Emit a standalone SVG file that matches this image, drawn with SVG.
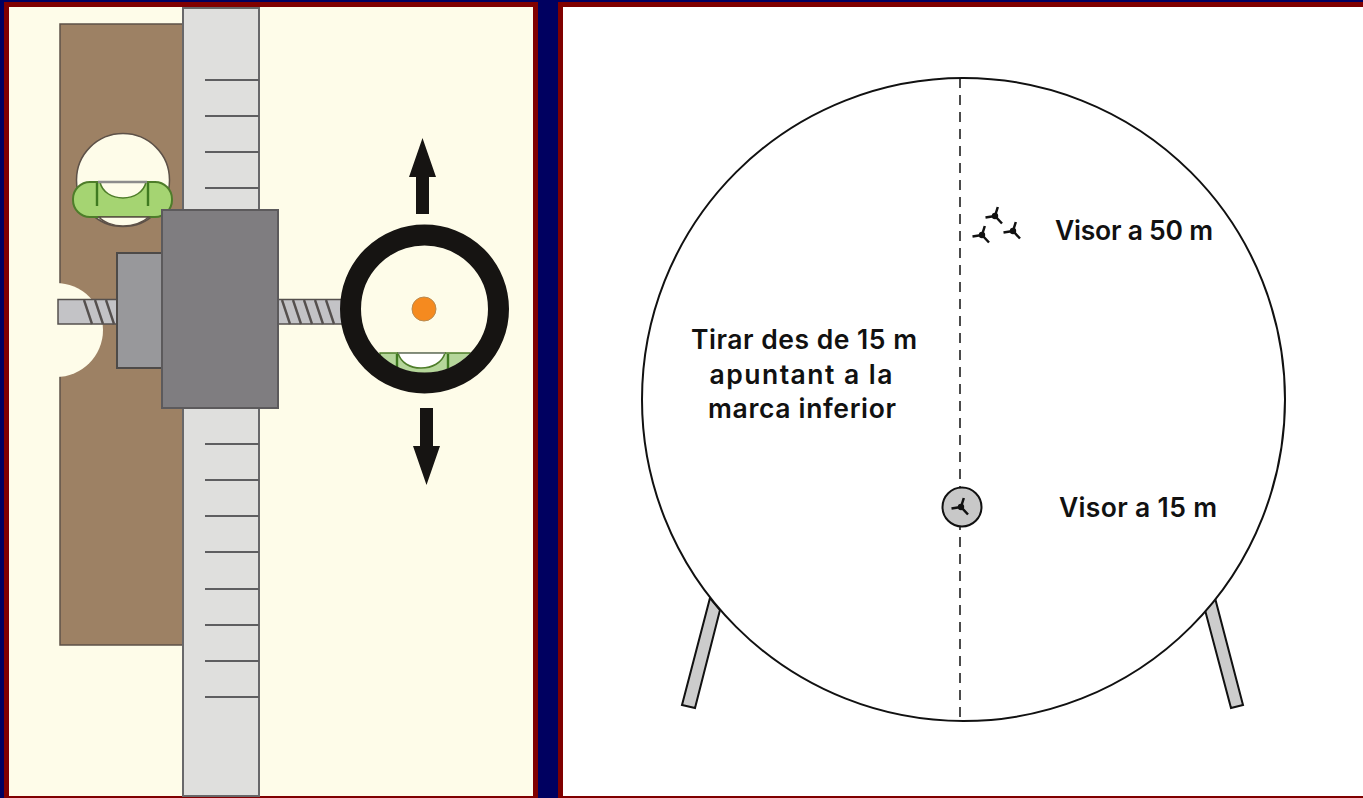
<svg xmlns="http://www.w3.org/2000/svg" width="1363" height="798" viewBox="0 0 1363 798">
<style>
.lbl{font-family:"Inter","Liberation Sans",sans-serif;font-weight:600;font-size:26.500px;fill:#111;text-anchor:middle}
.tick{stroke:#5e5e60;stroke-width:2.2;fill:none}
.edge{stroke:#4d4a48;stroke-width:2}
.thread{stroke:#55504e;stroke-width:2.4;fill:none}
.scr{fill:#c3c3c6;stroke:#55504e;stroke-width:1.5}
.gl{stroke:#3f7a20;stroke-width:2.4;fill:none}
.leg{fill:#cccccc;stroke:#111;stroke-width:2}
</style>
<defs>
<g id="mark"><path d="M0 0L-9.500 1.500M0 0L2.800-9M0 0L7 7.500" stroke="#111" stroke-width="2.500" fill="none"/><circle r="3.200" fill="#111"/></g>
<clipPath id="inner"><circle cx="424" cy="309" r="64"/></clipPath>
</defs>
<rect width="1363" height="798" fill="#000060"/>
<rect x="4" y="2" width="534" height="796" fill="#800000"/>
<rect x="558" y="2" width="805" height="796" fill="#800000"/>
<rect x="9" y="7" width="524" height="789" fill="#fefce9"/>
<rect x="563" y="7" width="800" height="789" fill="#fff"/>

<g id="backplate">
<rect x="60" y="24" width="123" height="621" fill="#9d8164" stroke="#5d5148" stroke-width="1.5"/>
<circle cx="56" cy="330" r="47" fill="#fefce9"/>
<rect x="40" y="24" width="19" height="621" fill="#fefce9"/>
</g>
<g id="ruler">
<rect x="183" y="8" width="76" height="788" fill="#dfdfdd" stroke="#68686a" stroke-width="2"/>
<path class="tick" d="M205 80H259M205 116H259M205 152H259M205 188H259M205 444H259M205 480H259M205 516H259M205 552H259M205 589H259M205 625H259M205 661H259M205 697H259"/>
</g>
<g id="top-level">
<circle cx="123" cy="180" r="46.500" fill="#fefce9" stroke="#5d5148" stroke-width="1.500"/>
<rect x="73" y="182" width="99" height="35" rx="17" fill="#a5d472" stroke="#4e7d2a" stroke-width="2"/>
<path d="M100 182H146C144 192 134 198 123 198C112 198 102 192 100 182Z" fill="#fefce9" stroke="#4e7d2a" stroke-width="1.500"/>
<path d="M98 182H147" stroke="#8c8c8c" stroke-width="2.400"/>
<path class="gl" d="M97 183V206M148 183V206"/>
<path d="M99 217C103 222 113 226 123 226C133 226 143 222 149 217Z" fill="#fefce9" stroke="#5d5148" stroke-width="1.500"/>
</g>
<g id="screw-left">
<rect x="58" y="299.500" width="59" height="24.500" class="scr"/>
<path class="thread" d="M84 300L92 324M95 300L103 324M106 300L114 324"/>
</g>
<g id="screw-right">
<rect x="278" y="299.500" width="66" height="24.500" class="scr"/>
<path class="thread" d="M282 300L290 324M293 300L301 324M304 300L312 324M315 300L323 324M326 300L334 324"/>
</g>
<g id="small-block"><rect x="117" y="253" width="45" height="115" fill="#98989b" class="edge"/></g>
<g id="big-block"><rect x="162" y="210" width="116" height="198" fill="#7f7d80" stroke="#5c5a5c" stroke-width="2"/></g>
<g id="sight">
<circle cx="424" cy="309" r="64" fill="#fefce9"/>
<g clip-path="url(#inner)">
<rect x="380" y="353" width="90" height="30" fill="#b5d69a" stroke="#4e7d2a" stroke-width="1.500"/>
<path d="M398 353H445C442 363 432 368 421 368C410 368 401 363 398 353Z" fill="#fff" stroke="#4e7d2a" stroke-width="1.500"/>
<path d="M398 353H445" stroke="#8c8c8c" stroke-width="1.500"/>
<path class="gl" d="M397 354V370M448 354V370"/>
</g>
<circle cx="424.500" cy="309" r="74" fill="none" stroke="#161412" stroke-width="21"/>
<circle cx="424" cy="309" r="12" fill="#f58a1f" stroke="#b98a50" stroke-width="1"/>
</g>
<g id="connectors">
<path id="arrow-up" d="M422.500 138L436 177H429V214H416V177H409Z" fill="#161412"/>
<path id="arrow-down" d="M426.500 485L440 446H433V408H420V446H413Z" fill="#161412"/>
</g>

<g id="legs">
<path class="leg" d="M710 598L720 610L695 708L682 705Z"/>
<path class="leg" d="M1215 598L1205 610L1231 708L1243 705Z"/>
</g>
<g id="target">
<path d="M963.500 78A321.500 321.500 0 1 1 963.500 721A321.500 321.500 0 1 1 963.500 78Z" fill="#fff" stroke="#111" stroke-width="2"/>
<path id="dash-line" d="M960 78V721" stroke="#111" stroke-width="1.500" stroke-dasharray="10 7" fill="none"/>
</g>
<g id="group-50">
<use href="#mark" x="995" y="216"/><use href="#mark" x="982" y="235"/><use href="#mark" x="1013" y="231"/>
</g>
<g id="group-15">
<circle cx="962" cy="507" r="19.500" fill="#c8c8c8" stroke="#111" stroke-width="2"/>
<use href="#mark" x="961" y="507"/>
</g>
<g id="labels">
<text class="lbl" x="1134" y="240" textLength="158">Visor a 50 m</text>
<text class="lbl" x="1138" y="517" textLength="158">Visor a 15 m</text>
<text class="lbl" x="804" y="349" textLength="226">Tirar des de 15 m</text>
<text class="lbl" x="801" y="384" textLength="183">apuntant a la</text>
<text class="lbl" x="802" y="418" textLength="188">marca inferior</text>
</g>
</svg>
